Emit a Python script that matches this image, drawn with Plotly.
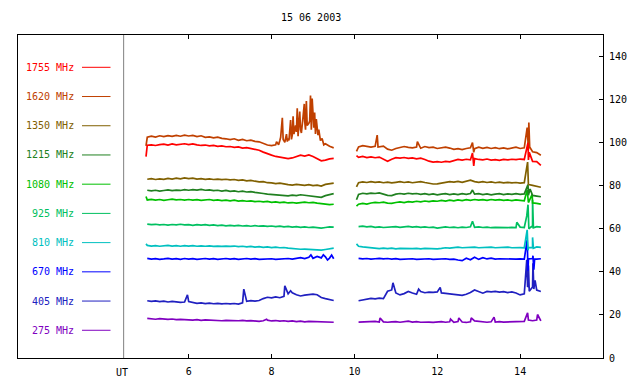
import plotly.graph_objects as go

TITLE = "15 06 2003"
FREQ_LABELS = ["1755 MHz", "1620 MHz", "1350 MHz", "1215 MHz", "1080 MHz",
               "925 MHz", "810 MHz", "670 MHz", "405 MHz", "275 MHz"]
COLORS = ["#ff0000", "#c04000", "#806000", "#208020", "#00c000",
          "#00c060", "#00c0c0", "#0000ff", "#2020c0", "#8000c0"]
X_TICKS = [6, 8, 10, 12, 14]
Y_TICKS = [0, 20, 40, 60, 80, 100, 120, 140]

# time (UT hours), two observing segments
T_A = [5.0, 5.1, 5.2, 5.3, 5.4, 5.5, 5.6, 5.7, 5.8, 5.9, 6.0, 6.1, 6.2, 6.3, 6.4, 6.5,
       6.6, 6.7, 6.8, 6.9, 7.0, 7.1, 7.2, 7.3, 7.4, 7.5, 7.6, 7.7, 7.8, 7.9, 8.0, 8.1,
       8.2, 8.3, 8.4, 8.5, 8.6, 8.7, 8.8, 8.9, 9.0, 9.1, 9.2, 9.3, 9.4, 9.5]
T_B = [10.1, 10.2, 10.3, 10.4, 10.5, 10.6, 10.7, 10.8, 10.9, 11.0, 11.1, 11.2, 11.3,
       11.4, 11.5, 11.6, 11.7, 11.8, 11.9, 12.0, 12.1, 12.2, 12.3, 12.4, 12.5, 12.6,
       12.7, 12.8, 12.9, 13.0, 13.1, 13.2, 13.3, 13.4, 13.5, 13.6, 13.7, 13.8, 13.9,
       14.0, 14.1, 14.2, 14.3, 14.4, 14.5]

# ---- 1755 MHz
V1755_A = [98.8, 99.0, 98.7, 99.1, 99.3, 98.9, 99.4, 99.0, 99.2, 99.5, 99.1, 99.4, 99.0,
           98.7, 98.9, 98.5, 98.7, 98.3, 98.5, 98.1, 98.2, 97.8, 98.0, 97.5, 97.7, 97.2,
           97.0, 96.5, 95.6, 94.8, 94.2, 93.6, 93.3, 93.0, 92.6, 92.9, 93.5, 94.2, 93.8,
           94.3, 93.6, 92.6, 91.6, 91.9, 92.5, 92.7]
S1755_A = [(4.97, 93.5)]
V1755_B = [93.2, 93.6, 93.1, 93.4, 93.0, 93.3, 92.4, 91.4, 92.3, 93.0, 92.8, 93.1, 92.7,
           92.9, 92.5, 92.8, 92.2, 91.4, 91.0, 91.2, 90.9, 91.3, 91.1, 91.8, 92.2, 91.9,
           92.3, 92.0, 92.6, 92.2, 92.0, 92.4, 91.9, 92.1, 91.8, 92.2, 92.0, 92.3, 92.1,
           92.4, 92.2, 92.0, 91.3, 91.2, 89.5]
S1755_B = [(10.05, 94.0), (12.85, 95.2), (12.88, 89.2), (14.19, 100.0), (14.22, 95.5)]

# ---- 1620 MHz
V1620_A = [102.5, 103.0, 102.6, 103.2, 102.8, 103.3, 102.9, 103.4, 103.0, 103.5, 103.1,
           103.4, 102.8, 103.2, 102.5, 102.7, 102.2, 102.6, 102.0, 101.8, 101.4, 101.8,
           101.1, 101.5, 100.9, 101.2, 100.6, 100.4, 99.5, 98.9, 98.6, 99.0, 101.0, 100.8,
           102.0, 103.5, 105.0, 106.0, 110.0, 109.0, 112.0, 105.0, 101.4, 99.5, 98.3, 97.6]
S1620_A = [(4.97, 98.5), (8.12, 100.5), (8.17, 99.0), (8.22, 102.5), (8.26, 111.5),
           (8.28, 101.5), (8.32, 100.2), (8.36, 104.0), (8.38, 100.5), (8.42, 101.0),
           (8.46, 110.5), (8.48, 101.5), (8.52, 112.2), (8.54, 104.0), (8.58, 108.0),
           (8.62, 116.0), (8.64, 103.0), (8.68, 114.5), (8.72, 104.5), (8.76, 112.0),
           (8.79, 118.0), (8.82, 106.0), (8.84, 119.3), (8.86, 108.0), (8.92, 110.0),
           (8.94, 121.9), (8.96, 106.0), (8.98, 120.5), (9.02, 107.0), (9.04, 114.0),
           (9.06, 104.0), (9.08, 111.0), (9.12, 103.5), (9.14, 106.0), (9.18, 101.0),
           (9.22, 102.0), (9.26, 99.0)]
V1620_B = [98.0, 98.6, 98.2, 97.9, 98.3, 98.1, 98.4, 97.0, 96.5, 97.3, 97.9, 98.2, 97.8,
           97.6, 98.0, 97.4, 98.2, 97.7, 97.9, 97.3, 97.6, 97.9, 97.5, 96.9, 97.2, 96.8,
           97.3, 97.6, 97.2, 97.9, 97.4, 97.8, 97.3, 97.7, 97.2, 97.6, 97.1, 97.5, 97.9,
           97.3, 97.6, 96.8, 95.8, 95.4, 94.2]
S1620_B = [(10.05, 96.0), (10.55, 103.5), (10.57, 98.0), (11.52, 100.5), (12.85, 100.0),
           (12.88, 95.5), (14.17, 107.0), (14.19, 99.0), (14.21, 109.4), (14.23, 98.0)]

# ---- 1350 MHz
V1350_A = [83.0, 83.3, 82.9, 83.2, 83.0, 83.4, 83.1, 83.5, 83.2, 83.6, 83.3, 83.5, 83.1,
           83.3, 83.0, 83.2, 82.9, 83.1, 82.8, 83.0, 82.7, 82.9, 82.5, 82.7, 82.3, 82.5,
           82.1, 81.8, 81.9, 81.4, 81.3, 81.0, 81.2, 80.7, 80.5, 80.3, 80.6, 80.4, 80.2,
           80.5, 80.1, 80.3, 79.8, 80.6, 81.0, 81.2]
S1350_A = []
V1350_B = [81.4, 81.8, 81.5, 81.9, 81.6, 81.8, 81.4, 81.7, 81.3, 81.6, 81.9, 81.5, 81.8,
           81.4, 81.7, 81.9, 81.5, 81.1, 80.8, 80.9, 81.3, 81.6, 81.9, 81.7, 82.0, 81.6,
           82.2, 82.6, 81.9, 81.6, 81.9, 81.5, 81.8, 81.4, 81.7, 81.3, 81.6, 81.3, 81.5,
           81.2, 81.4, 80.6, 80.2, 79.8, 79.3]
S1350_B = [(10.05, 79.5), (14.18, 91.0), (14.2, 80.5)]

# ---- 1215 MHz
V1215_A = [77.9, 77.6, 77.9, 77.5, 77.8, 78.1, 77.7, 78.0, 77.8, 78.2, 77.9, 78.2, 78.0,
           78.3, 77.9, 78.1, 77.7, 77.9, 77.5, 77.8, 77.4, 77.6, 77.2, 77.5, 77.1, 77.3,
           76.9, 76.8, 76.4, 76.1, 76.0, 75.7, 75.5, 75.6, 75.3, 75.6, 75.4, 75.8, 75.5,
           75.3, 75.0, 74.8, 74.6, 75.4, 76.0, 76.3]
S1215_A = []
V1215_B = [76.0, 76.5, 76.2, 76.6, 76.4, 76.7, 76.2, 75.5, 75.4, 76.1, 76.4, 76.1, 76.5,
           76.2, 76.4, 76.0, 76.3, 75.9, 76.2, 75.8, 76.1, 76.3, 75.9, 76.2, 75.9, 76.3,
           76.0, 76.4, 76.1, 76.3, 75.9, 76.2, 75.8, 76.1, 76.3, 75.9, 76.2, 76.0, 76.3,
           76.0, 76.2, 75.6, 75.5, 75.2, 74.9]
S1215_B = [(10.05, 73.5), (12.85, 78.0), (14.19, 80.5), (14.24, 78.5)]

# ---- 1080 MHz
V1080_A = [73.4, 73.7, 73.3, 73.6, 73.2, 73.5, 73.8, 73.4, 73.6, 73.3, 73.6, 73.3, 73.5,
           73.2, 73.4, 73.6, 73.2, 73.4, 73.1, 73.3, 73.0, 73.3, 72.9, 73.1, 72.8, 73.0,
           72.6, 72.8, 72.5, 72.7, 72.3, 72.5, 72.2, 72.4, 72.0, 72.2, 71.9, 72.1, 72.4,
           72.1, 72.3, 71.9, 71.7, 71.5, 71.2, 71.4]
S1080_A = [(4.97, 75.0)]
V1080_B = [71.4, 71.8, 71.5, 72.0, 72.3, 72.1, 72.4, 71.9, 71.8, 72.2, 72.5, 72.2, 72.6,
           72.4, 72.8, 72.5, 72.9, 72.6, 73.0, 72.8, 73.2, 72.9, 73.3, 73.0, 73.4, 73.1,
           73.5, 73.2, 73.6, 73.3, 73.5, 73.2, 73.6, 73.3, 73.5, 73.2, 73.4, 73.1, 73.4,
           73.2, 73.0, 72.2, 72.0, 71.8, 71.5]
S1080_B = [(10.05, 70.5), (14.17, 78.0), (14.19, 73.0), (14.29, 76.0)]

# ---- 925 MHz
V925_A = [62.2, 61.9, 62.1, 61.8, 62.0, 61.7, 62.0, 61.8, 62.1, 61.8, 61.9, 61.6, 61.9,
          61.7, 61.9, 61.6, 61.8, 61.5, 61.7, 61.4, 61.6, 61.4, 61.6, 61.3, 61.5, 61.2,
          61.5, 61.2, 61.4, 61.1, 61.3, 61.0, 61.2, 60.9, 61.1, 60.8, 61.0, 60.7, 60.9,
          60.6, 60.8, 60.5, 60.3, 60.6, 60.9, 60.8]
S925_A = []
V925_B = [61.0, 61.2, 60.9, 61.1, 60.7, 60.9, 60.6, 60.8, 60.9, 61.0, 60.7, 60.9, 61.1,
          60.8, 61.0, 60.7, 60.9, 60.6, 60.8, 60.3, 60.6, 60.9, 60.6, 60.8, 60.5, 60.8,
          60.6, 60.9, 60.7, 60.9, 60.6, 60.8, 60.5, 60.7, 60.6, 60.8, 60.5, 60.7, 60.6,
          60.8, 60.6, 60.7, 60.9, 61.0, 60.8]
S925_B = [(12.85, 63.5), (13.92, 63.0), (14.16, 66.0), (14.19, 71.2), (14.21, 60.0),
          (14.27, 61.0), (14.3, 73.5), (14.32, 60.5)]

# ---- 810 MHz
V810_A = [52.3, 52.0, 52.2, 51.9, 52.1, 52.3, 52.0, 52.2, 51.9, 52.2, 52.0, 52.2, 51.9,
          52.1, 51.9, 52.1, 51.8, 52.0, 51.8, 52.0, 51.8, 52.0, 51.7, 51.9, 51.6, 51.8,
          51.5, 51.7, 51.4, 51.6, 51.3, 51.5, 51.2, 51.3, 51.0, 50.8, 50.6, 50.5, 50.6,
          50.4, 50.5, 50.3, 50.1, 50.4, 50.8, 51.0]
S810_A = [(4.97, 53.0)]
V810_B = [51.9, 51.6, 51.4, 51.1, 51.0, 50.8, 51.0, 50.8, 51.0, 50.7, 50.9, 50.8, 51.0,
          50.8, 50.9, 50.7, 50.9, 50.8, 51.0, 50.7, 50.9, 51.2, 51.0, 51.3, 51.5, 51.2,
          51.4, 51.3, 51.5, 51.2, 51.4, 51.3, 51.5, 51.2, 51.4, 51.3, 51.5, 51.2, 51.4,
          51.3, 51.2, 51.4, 51.3, 51.6, 51.4]
S810_B = [(10.05, 53.0), (14.17, 59.5), (14.19, 50.0), (14.3, 56.0), (14.32, 51.0)]

# ---- 670 MHz
V670_A = [46.3, 45.9, 46.1, 45.8, 46.0, 46.3, 45.9, 46.1, 45.8, 46.2, 45.9, 46.1, 45.8,
          46.0, 46.2, 45.9, 46.1, 45.8, 46.0, 46.2, 45.9, 46.1, 45.8, 46.0, 46.2, 45.9,
          46.1, 45.8, 46.0, 45.9, 46.1, 45.8, 46.0, 45.9, 46.2, 45.9, 46.3, 46.6, 46.2,
          46.8, 46.3, 47.2, 46.5, 47.0, 46.4, 46.1]
S670_A = [(8.95, 47.9), (9.25, 47.9), (9.35, 45.5), (9.45, 47.8)]
V670_B = [46.3, 46.0, 46.2, 45.9, 46.1, 46.3, 46.0, 46.2, 45.9, 46.1, 45.8, 46.0, 45.9,
          46.1, 45.8, 46.0, 45.9, 46.1, 45.8, 46.0, 45.9, 46.1, 45.8, 45.9, 45.5, 45.2,
          46.3, 45.6, 46.8, 45.8, 46.6, 46.0, 46.4, 45.9, 46.1, 46.0, 45.9, 46.1, 45.9,
          46.0, 45.9, 46.0, 46.2, 45.9, 46.1]
S670_B = [(14.17, 55.0), (14.19, 40.5), (14.21, 46.0), (14.31, 47.5), (14.33, 41.0),
          (14.35, 46.0)]

# ---- 405 MHz
V405_A = [26.6, 26.3, 26.5, 26.2, 26.4, 26.0, 26.3, 26.1, 25.8, 26.0, 26.2, 25.7, 25.4,
          25.6, 25.3, 25.5, 25.2, 25.4, 25.1, 25.3, 25.1, 25.3, 25.0, 25.6, 26.3, 26.6,
          26.4, 26.7, 27.6, 28.2, 27.9, 28.4, 28.0, 28.6, 29.8, 30.3, 29.4, 28.8, 29.2,
          29.5, 29.7, 29.4, 28.1, 27.6, 27.0, 26.7]
S405_A = [(5.97, 29.3), (7.33, 32.0), (8.32, 33.5), (8.46, 31.2)]
V405_B = [26.6, 27.0, 27.4, 27.7, 27.5, 27.8, 27.6, 31.0, 31.6, 30.2, 29.3, 29.9, 30.9,
          30.2, 29.6, 30.9, 30.3, 30.6, 30.5, 30.7, 30.2, 30.0, 29.8, 29.4, 29.2, 29.1,
          29.6, 30.4, 31.6, 30.8, 30.1, 30.9, 30.7, 30.9, 30.6, 30.8, 30.4, 30.7, 30.2,
          29.3, 29.8, 33.5, 33.0, 31.5, 30.9]
S405_B = [(10.93, 34.9), (11.55, 32.0), (12.07, 32.8), (14.16, 45.6), (14.18, 33.0),
          (14.2, 43.0), (14.22, 31.0), (14.31, 44.0), (14.33, 32.0), (14.36, 36.0)]

# ---- 275 MHz
V275_A = [18.4, 18.2, 18.0, 18.3, 18.1, 17.9, 18.1, 17.8, 17.9, 17.7, 17.8, 17.6, 17.8,
          17.5, 17.7, 17.6, 17.4, 17.6, 17.3, 17.5, 17.4, 17.6, 17.3, 17.5, 17.2, 17.4,
          17.2, 17.0, 17.3, 17.6, 17.2, 17.4, 17.1, 17.3, 17.0, 17.2, 16.9, 17.1, 16.8,
          17.0, 16.9, 17.1, 16.8, 16.9, 16.7, 16.6]
S275_A = [(7.88, 18.0)]
V275_B = [16.7, 16.8, 16.6, 16.9, 17.0, 16.7, 16.8, 16.6, 16.8, 16.9, 16.6, 16.9, 17.1,
          16.7, 16.9, 16.6, 16.8, 16.7, 16.5, 16.7, 16.9, 16.6, 16.8, 16.6, 16.9, 16.7,
          16.5, 16.8, 17.2, 16.9, 16.7, 16.6, 16.8, 16.7, 16.9, 16.7, 16.8, 16.9, 16.8,
          16.9, 17.0, 17.6, 17.3, 17.6, 17.2]
S275_B = [(10.62, 18.6), (12.32, 18.1), (12.52, 18.6), (12.82, 18.6), (13.37, 19.0),
          (14.18, 21.0), (14.42, 20.2)]

SERIES = [
    (V1755_A, S1755_A, V1755_B, S1755_B),
    (V1620_A, S1620_A, V1620_B, S1620_B),
    (V1350_A, S1350_A, V1350_B, S1350_B),
    (V1215_A, S1215_A, V1215_B, S1215_B),
    (V1080_A, S1080_A, V1080_B, S1080_B),
    (V925_A, S925_A, V925_B, S925_B),
    (V810_A, S810_A, V810_B, S810_B),
    (V670_A, S670_A, V670_B, S670_B),
    (V405_A, S405_A, V405_B, S405_B),
    (V275_A, S275_A, V275_B, S275_B),
]

FONT = "DejaVu Sans Mono"
X_RANGE = [1.88, 16.0]
UT_LINE = 4.43


def merge(t, v, extra):
    pts = sorted(list(zip(t, v)) + list(extra))
    return [p[0] for p in pts], [p[1] for p in pts]


fig = go.Figure()
for idx in range(len(SERIES) - 1, -1, -1):
    va, sa, vb, sb = SERIES[idx]
    xa, ya = merge(T_A, va, sa)
    xb, yb = merge(T_B, vb, sb)
    fig.add_trace(go.Scatter(
        x=xa + [None] + xb, y=ya + [None] + yb, mode="lines",
        line=dict(color=COLORS[idx], width=1.7), showlegend=False,
        hoverinfo="skip"))

# page offset of the plot div (browser body margin)
OFF = 8
FIG_W, FIG_H = 640 - OFF, 384 - OFF
# plot geometry in window pixels
TOP_PX, BOT_PX, LEFT_PX, RIGHT_PX = 35, 358, 18, 603
H_PX = BOT_PX - TOP_PX
W_PX = RIGHT_PX - LEFT_PX
LEG_Y0, LEG_DY = 67.3, 29.22

shapes = [dict(type="line", xref="x", yref="paper", x0=UT_LINE, x1=UT_LINE,
               y0=0, y1=1, line=dict(color="#808080", width=1))]
annotations = []
for i, lab in enumerate(FREQ_LABELS):
    ypx = LEG_Y0 + i * LEG_DY
    yp = (BOT_PX - ypx) / H_PX
    shapes.append(dict(type="line", xref="paper", yref="paper",
                       x0=(82 - LEFT_PX) / W_PX, x1=(110.5 - LEFT_PX) / W_PX,
                       y0=yp, y1=yp, line=dict(color=COLORS[i], width=1)))
    annotations.append(dict(text=lab, xref="paper", yref="paper",
                            x=(76 - LEFT_PX) / W_PX, y=yp, xanchor="right",
                            yanchor="middle", showarrow=False,
                            font=dict(family=FONT, size=10, color=COLORS[i])))

annotations.append(dict(text="UT", xref="x", yref="paper", x=4.40,
                        y=(BOT_PX - 372) / H_PX, xanchor="center", yanchor="middle",
                        showarrow=False, font=dict(family=FONT, size=10, color="black")))
annotations.append(dict(text=TITLE, xref="paper", yref="paper",
                        x=(311 - LEFT_PX) / W_PX, y=(BOT_PX - 17) / H_PX,
                        xanchor="center", yanchor="middle", showarrow=False,
                        font=dict(family=FONT, size=10, color="black")))

fig.update_layout(
    width=FIG_W, height=FIG_H,
    margin=dict(l=LEFT_PX - OFF, r=640 - RIGHT_PX, t=TOP_PX - OFF,
                b=384 - BOT_PX, pad=0, autoexpand=False),
    paper_bgcolor="white", plot_bgcolor="white",
    shapes=shapes, annotations=annotations, showlegend=False,
    xaxis=dict(range=X_RANGE, tickvals=X_TICKS, ticktext=[str(v) for v in X_TICKS],
               ticks="inside", ticklen=4, tickcolor="black", showline=True,
               linecolor="black", linewidth=1, mirror="ticks", showgrid=False,
               zeroline=False, automargin=False, ticklabelstandoff=4,
               tickfont=dict(family=FONT, size=10, color="black")),
    yaxis=dict(range=[0, 150], side="right", tickvals=Y_TICKS,
               ticktext=[str(v) for v in Y_TICKS], ticks="inside", ticklen=4,
               tickcolor="black", showline=True, linecolor="black", linewidth=1,
               mirror=True, showgrid=False, zeroline=False, automargin=False,
               ticklabelstandoff=3,
               tickfont=dict(family=FONT, size=10, color="black")),
)

fig.write_html("out.html")
